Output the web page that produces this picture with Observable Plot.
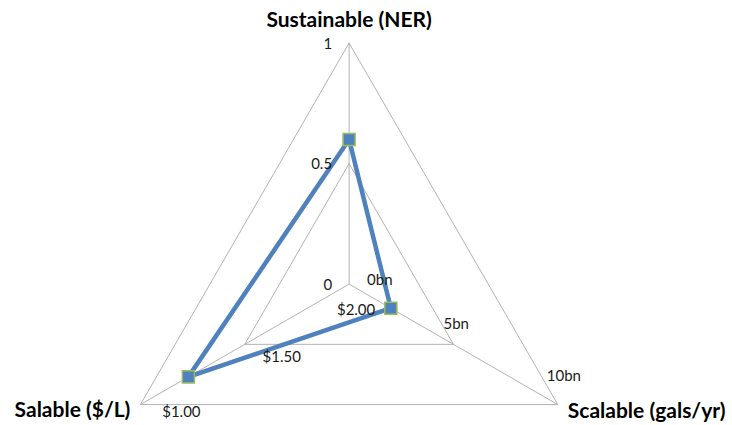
<!DOCTYPE html>
<html>
<head>
<meta charset="utf-8">
<script src="https://cdn.jsdelivr.net/npm/d3@7"></script>
<script src="https://cdn.jsdelivr.net/npm/@observablehq/plot@0.6"></script>
<style>
  html, body { margin: 0; padding: 0; background: #fff; }
  #chart svg { display: block; }
</style>
</head>
<body>
<div id="chart"></div>
<script>
// Radar axes, their ranges and tick labels
const axisNames = ["Sustainable (NER)", "Scalable (gals/yr)", "Salable ($/L)"];
const axisMin = [0, 0, 2.0];
const axisMax = [1, 10, 1.0];
const tickValues = [[0, 0.5, 1], [0, 5, 10], [2.0, 1.5, 1.0]];
const tickLabels = [["0", "0.5", "1"], ["0bn", "5bn", "10bn"], ["$2.00", "$1.50", "$1.00"]];
// Series values, one per axis (NER, billion gallons per year, dollars per litre)
const seriesValues = [0.6, 2, 1.23];
const gridLevels = [0.5, 1];

// Layout
const W = 732, H = 425;
const R = 241;               // radius of the outer ring in pixels
const cx = 348.6, cy = 283.6; // centre of the web in pixels
const angles = [90, -30, 210];

const frac = (i, v) => (v - axisMin[i]) / (axisMax[i] - axisMin[i]);
const polar = (i, f) => {
  const a = angles[i] * Math.PI / 180;
  return {x: f * Math.cos(a), y: f * Math.sin(a)};
};
const shift = (p, ox, oy) => ({x: p.x + ox / R, y: p.y - oy / R});

// Grid rings (closed triangles) and spokes
const rings = gridLevels.flatMap(level =>
  [0, 1, 2, 0].map(i => ({level, ...polar(i, level)})));
const spokes = axisNames.map((name, i) => ({x1: 0, y1: 0, x2: polar(i, 1).x, y2: polar(i, 1).y}));

// Series polygon
const points = seriesValues.map((v, i) => ({axis: axisNames[i], value: v, ...polar(i, frac(i, v))}));
const loop = [...points, points[0]];

// Tick label placement (pixel offsets from each tick point)
const tickOffsets = [
  [[-17, 1, "end"], [-17, 1, "end"], [-17, 1, "end"]],
  [[18, -4, "start"], [-10, -20, "start"], [-11, -28, "start"]],
  [[7, 26, "middle"], [37, 13, "middle"], [41, 8, "middle"]]
];
const ticks = tickValues.flatMap((vals, i) => vals.map((v, j) => {
  const [ox, oy, anchor] = tickOffsets[i][j];
  return {label: tickLabels[i][j], anchor, ...shift(polar(i, frac(i, v)), ox, oy)};
}));

const titleOffsets = [[0, -23, "middle"], [10, 7, "start"], [-10, 6, "end"]];
const titles = axisNames.map((name, i) => {
  const [ox, oy, anchor] = titleOffsets[i];
  return {label: name, anchor, ...shift(polar(i, 1), ox, oy)};
});

const gridColor = "#b3b3b3";
const lineColor = "#4f81bd";
const markerStroke = "#9bbb59";
const font = "Lato, 'Open Sans', sans-serif";

const textMarks = (rows, opts) => ["start", "middle", "end"].map(anchor =>
  Plot.text(rows.filter(d => d.anchor === anchor), {
    x: "x", y: "y", text: "label", textAnchor: anchor, lineAnchor: "middle", ...opts
  }));

const chart = Plot.plot({
  width: W,
  height: H,
  margin: 0,
  style: {fontFamily: font, background: "#fff"},
  x: {domain: [-cx / R, (W - cx) / R], range: [0, W], axis: null},
  y: {domain: [-(H - cy) / R, cy / R], range: [H, 0], axis: null},
  marks: [
    Plot.line(rings, {x: "x", y: "y", z: "level", stroke: gridColor, strokeWidth: 1}),
    Plot.link(spokes, {x1: "x1", y1: "y1", x2: "x2", y2: "y2", stroke: gridColor, strokeWidth: 1}),
    Plot.line(loop, {x: "x", y: "y", stroke: lineColor, strokeWidth: 4.5, strokeLinejoin: "miter"}),
    Plot.dot(points, {x: "x", y: "y", symbol: "square", r: 6.8, fill: lineColor, stroke: markerStroke, strokeWidth: 1.5}),
    ...textMarks(ticks, {fontSize: 15, fill: "#1a1a1a"}),
    ...textMarks(titles, {fontSize: 21, fontWeight: "bold", fill: "#000"})
  ]
});

document.getElementById("chart").append(chart);
</script>
</body>
</html>
